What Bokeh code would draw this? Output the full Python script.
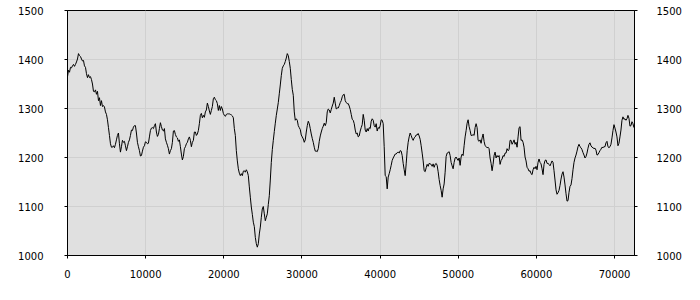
import numpy as np
from bokeh.plotting import figure
from bokeh.models import LinearAxis, Range1d, SingleIntervalTicker
from bokeh.embed import file_html
from bokeh.resources import INLINE

# Series values (uniformly sampled along x from x_first to x_last)
x_first = 0
x_last = 72480
values = [
    1365,1378,1374,1384,1383,1387,1390,1386,1390,1395,
    1401,1412,1408,1406,1401,1397,1398,1387,1384,1371,
    1363,1369,1363,1365,1359,1350,1335,1334,1338,1329,
    1335,1316,1322,1306,1316,1304,1306,1303,1293,1288,
    1277,1261,1245,1228,1221,1221,1224,1220,1227,1236,
    1245,1250,1228,1211,1222,1235,1231,1233,1224,1214,
    1222,1231,1236,1245,1256,1255,1262,1265,1265,1250,
    1231,1222,1214,1203,1204,1213,1221,1224,1232,1231,
    1228,1229,1242,1255,1260,1261,1259,1265,1269,1252,
    1243,1247,1259,1271,
    1263,1256,1254,1259,1238,1231,1225,1218,1207,1214,
    1218,1231,1254,1255,1247,1242,1240,1233,1236,1222,
    1207,1195,1202,1218,1222,1228,1231,1238,1242,1235,
    1222,1231,1235,1252,1252,1245,1248,1255,1269,1286,
    1290,1281,1286,1282,1293,1297,1311,1304,1295,1288,
    1296,1304,1320,1323,1318,1316,1310,1296,1306,1296,
    1304,1299,1290,1286,1284,1288,1289,1289,1289,1288,
    1287,1285,1281,1259,1245,1214,1193,1177,1168,1163,
    1167,1163,1172,1173,1170,1175,1171,1163,1140,1119,
    1099,1084,1068,1059,1037,1024,1017,1024,
    1044,1058,1078,1095,1100,1085,1071,1078,1085,1104,
    1122,1154,1190,1216,1235,1253,1270,1286,1299,1312,
    1330,1348,1367,1382,1387,1390,1396,1403,1412,1408,
    1396,1382,1359,1339,1327,1293,1276,1279,1276,1265,
    1261,1257,1246,1242,1238,1231,1236,1252,1265,1274,
    1269,1259,1248,1239,1231,1221,1213,1213,1212,1218,
    1233,1244,1252,1259,1264,1270,1265,1271,1293,1299,
    1297,1291,1298,1305,1311,1323,1311,1299,1301,1301,
    1306,1312,1316,1324,1328,1329,1316,1312,1310,1310,
    1305,1298,1288,1278,1276,1269,
    1256,1248,1250,1242,1244,1254,1261,1267,1288,1276,
    1256,1252,1259,1254,1261,1259,1274,1279,1276,1265,
    1262,1269,1254,1261,1259,1265,1277,1276,1269,1222,
    1163,1161,1136,1160,1167,1175,1184,1194,1199,1203,
    1207,1207,1210,1211,1209,1214,1213,1204,1188,1175,
    1163,1187,1214,1231,1242,1250,1245,1239,1235,1240,
    1242,1246,1246,1249,1244,1237,1224,1209,1193,1173,
    1171,1179,1186,1182,1188,1187,1186,1182,1187,1180,
    1186,1188,1184,1171,1155,1143,1133,1119,1136,1146,
    1170,1202,1209,1210,1212,1204,
    1190,1183,1177,1190,1199,1201,1197,1194,1199,1184,
    1201,1207,1204,1224,1242,1255,1270,1277,1263,1255,
    1245,1245,1247,1245,1261,1269,1261,1235,1233,1236,
    1229,1240,1248,1233,1224,1222,1220,1221,1218,1199,
    1188,1173,1186,1204,1211,1199,1204,1201,1204,1186,
    1194,1197,1204,1202,1209,1209,1218,1214,1216,1235,
    1235,1227,1231,1236,1227,1231,1221,1242,1261,1263,
    1235,1236,1231,1221,1201,1193,1180,1177,1172,1173,
    1167,1165,1175,1180,1177,1182,1175,1190,1197,1190,
    1187,1177,1165,1186,1194,1195,
    1188,1188,1186,1183,1188,1193,1190,1173,1154,1134,
    1125,1128,1133,1143,1156,1166,1171,1160,1144,1126,
    1111,1112,1129,1141,1144,1157,1175,1190,1199,1205,
    1213,1222,1227,1222,1220,1216,1210,1205,1199,1202,
    1209,1219,1227,1230,1224,1221,1220,1218,1219,1215,
    1205,1206,1210,1214,1217,1221,1220,1222,1222,1230,
    1233,1222,1220,1222,1227,1240,1255,1267,1260,1252,
    1242,1224,1229,1242,1256,1276,1283,1278,1279,1276,
    1279,1286,1280,1264,1265,1273,1269,1261,
]
x_range_end = 72550
y_min, y_max = 1000, 1500
x_tick_step = 10000
y_tick_step = 100

xs = np.linspace(x_first, x_last, len(values))

p = figure(width=700, height=300, output_backend="svg", toolbar_location=None,
           x_range=Range1d(0, x_range_end), y_range=Range1d(y_min, y_max),
           min_border_left=67, min_border_right=66, min_border_top=10, min_border_bottom=45)

p.background_fill_color = "#e0e0e0"
p.border_fill_color = "white"
p.outline_line_color = "black"
p.outline_line_width = 1

p.line(xs, values, line_color="black", line_width=1)

p.xaxis.ticker = SingleIntervalTicker(interval=x_tick_step)
p.yaxis.ticker = SingleIntervalTicker(interval=y_tick_step)

right_axis = LinearAxis(ticker=SingleIntervalTicker(interval=y_tick_step))
p.add_layout(right_axis, "right")

for ax in [p.xaxis[0], p.yaxis[0], right_axis]:
    ax.axis_line_color = "black"
    ax.axis_line_width = 1
    ax.major_tick_line_color = "black"
    ax.major_tick_in = 0
    ax.major_tick_out = 3
    ax.minor_tick_line_color = None
    ax.major_label_text_font = "DejaVu Sans"
    ax.major_label_text_font_size = "10px"
    ax.major_label_text_color = "black"

p.yaxis[0].major_label_standoff = 20
right_axis.major_label_standoff = 18
p.xaxis[0].major_label_standoff = 10

p.xgrid.ticker = SingleIntervalTicker(interval=x_tick_step)
p.ygrid.ticker = SingleIntervalTicker(interval=y_tick_step)
p.grid.grid_line_color = "#d0d0d0"
p.grid.grid_line_width = 1

open("out.html", "w").write(file_html(p, INLINE))
